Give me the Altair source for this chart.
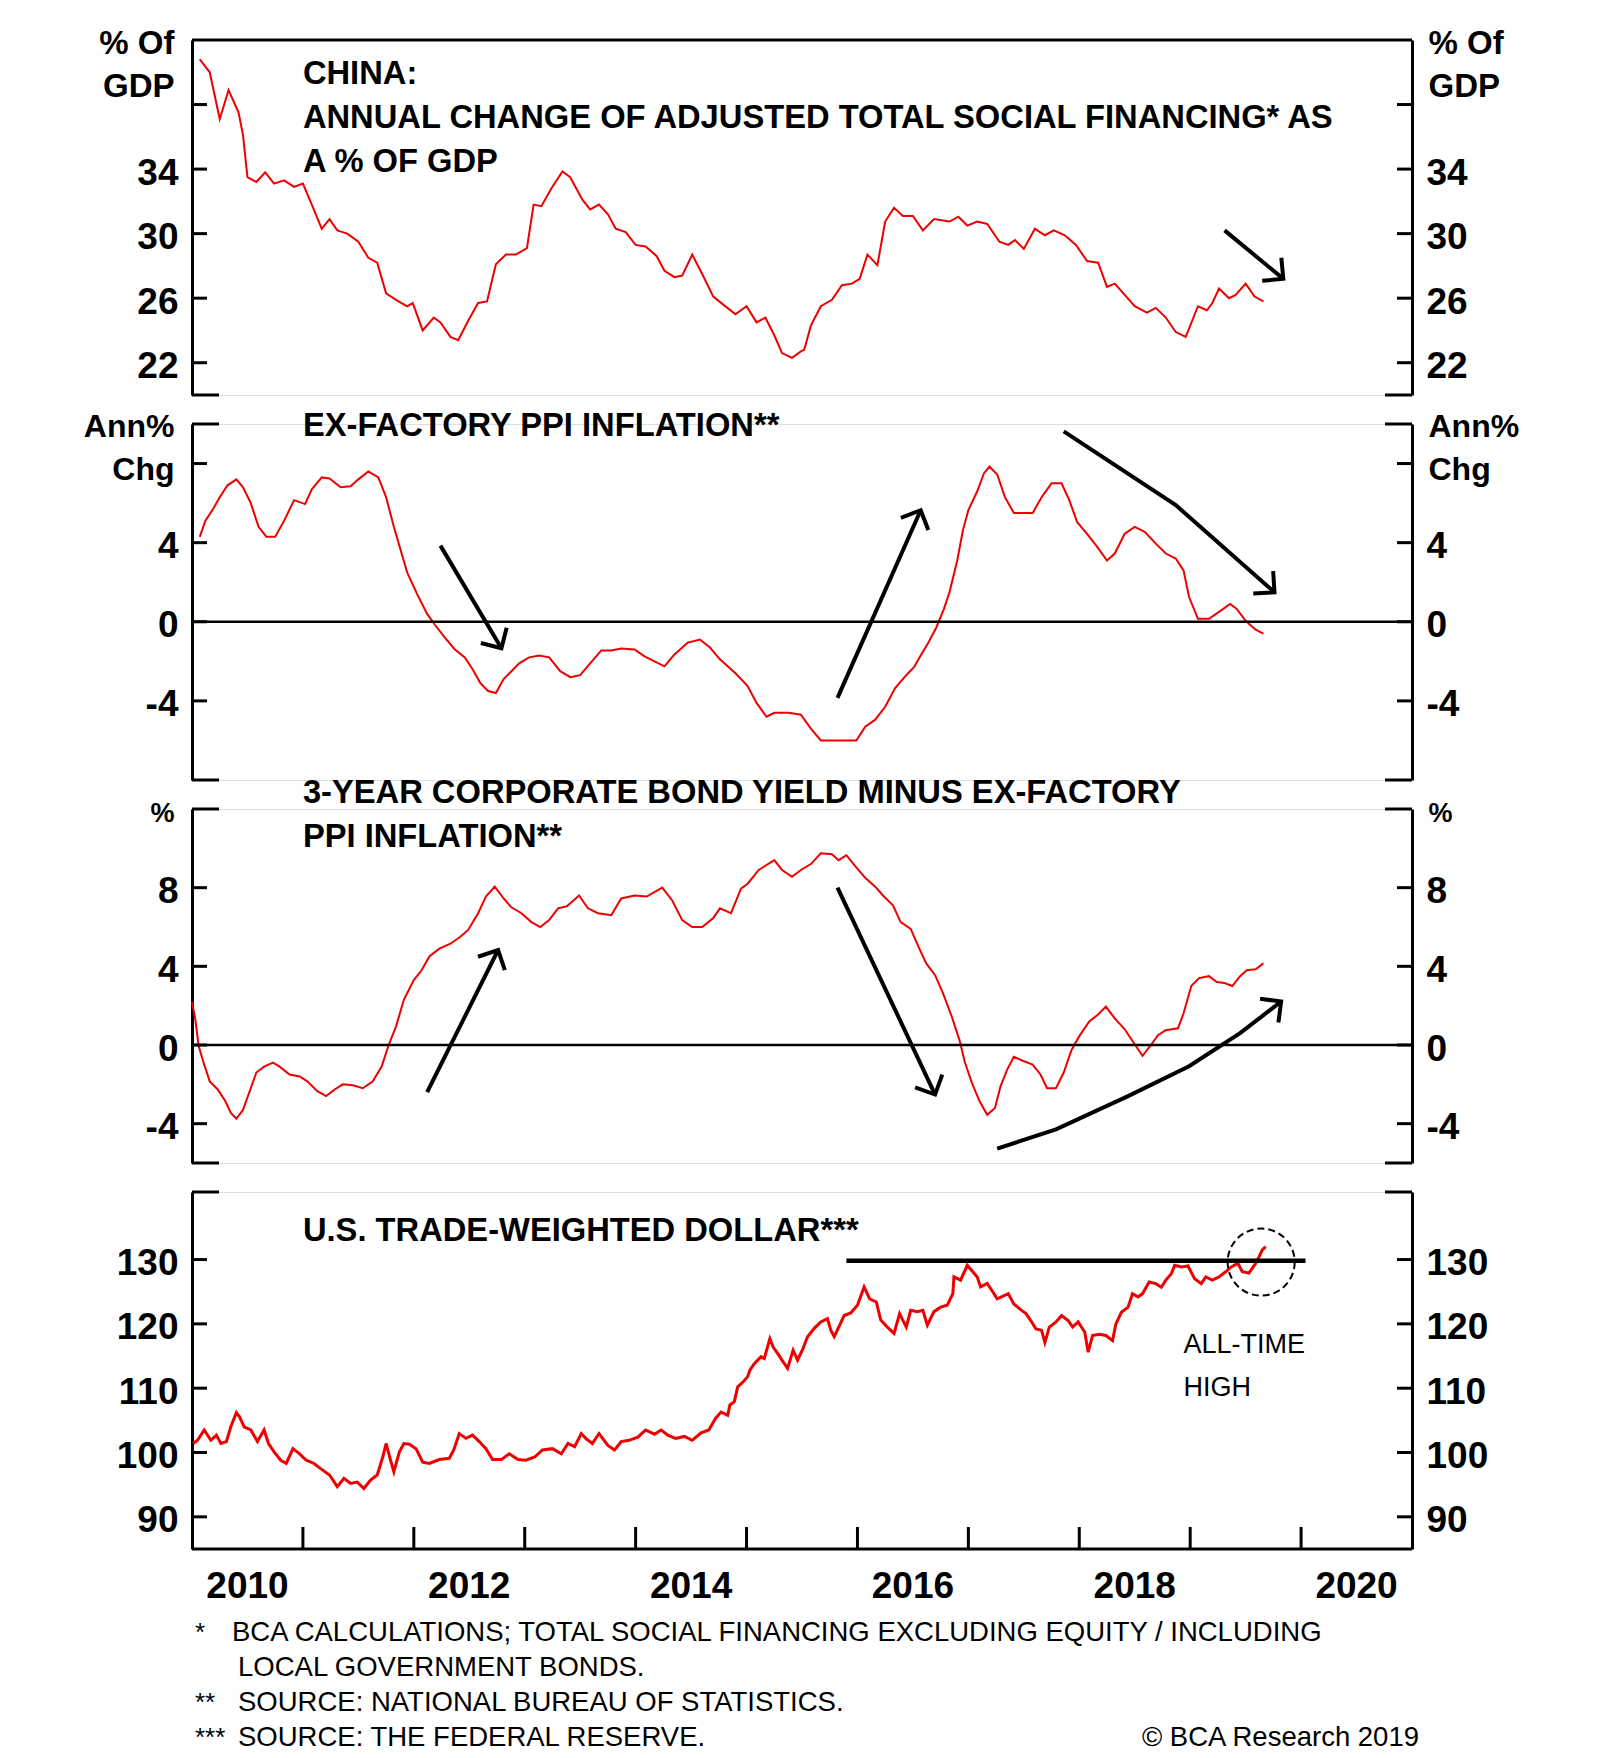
import math
import altair as alt
import pandas as pd

FONT = "Liberation Sans"
RED = "#ee0000"
W = 1220
XDOM = [2010, 2021]
PPX = W / (XDOM[1] - XDOM[0])

# ---------------- data ----------------
# Panel 1: annual change of adjusted TSF, % of GDP
tsf_x = [2010.07, 2010.16, 2010.25, 2010.33, 2010.42, 2010.46, 2010.5, 2010.58, 2010.66, 2010.74,
         2010.83, 2010.92, 2011.0, 2011.08, 2011.17, 2011.24, 2011.31, 2011.4, 2011.5, 2011.59,
         2011.67, 2011.75, 2011.84, 2011.94, 2011.99, 2012.08, 2012.18, 2012.24, 2012.33, 2012.4,
         2012.49, 2012.58, 2012.66, 2012.74, 2012.83, 2012.92, 2013.02, 2013.08, 2013.15, 2013.24,
         2013.34, 2013.41, 2013.52, 2013.59, 2013.67, 2013.75, 2013.82, 2013.91, 2014.0, 2014.09,
         2014.19, 2014.26, 2014.35, 2014.42, 2014.51, 2014.6, 2014.7, 2014.79, 2014.9, 2015.0,
         2015.09, 2015.17, 2015.25, 2015.32, 2015.41, 2015.49, 2015.52, 2015.58, 2015.67, 2015.77,
         2015.86, 2015.95, 2016.02, 2016.09, 2016.18, 2016.25, 2016.33, 2016.41, 2016.5, 2016.59,
         2016.69, 2016.83, 2016.91, 2016.99, 2017.08, 2017.17, 2017.28, 2017.36, 2017.42, 2017.5,
         2017.6, 2017.69, 2017.77, 2017.87, 2017.97, 2018.07, 2018.17, 2018.25, 2018.32, 2018.41,
         2018.5, 2018.61, 2018.69, 2018.78, 2018.87, 2018.96, 2019.07, 2019.15, 2019.2, 2019.26,
         2019.35, 2019.41, 2019.5, 2019.58, 2019.66]
tsf_v = [40.8, 40.0, 37.1, 38.9, 37.5, 36.1, 33.5, 33.2, 33.8, 33.1,
         33.3, 32.9, 33.1, 31.8, 30.3, 30.9, 30.2, 30.0, 29.5, 28.5,
         28.2, 26.3, 25.9, 25.5, 25.7, 24.0, 24.8, 24.5, 23.6, 23.4,
         24.6, 25.7, 25.8, 28.1, 28.7, 28.7, 29.1, 31.8, 31.7, 32.8,
         33.85, 33.5, 32.1, 31.5, 31.8, 31.2, 30.3, 30.1, 29.3, 29.2,
         28.6, 27.7, 27.3, 27.4, 28.7, 27.5, 26.1, 25.6, 25.0, 25.5,
         24.5, 24.8, 23.7, 22.6, 22.3, 22.7, 22.8, 24.3, 25.5, 25.9,
         26.8, 26.9, 27.2, 28.7, 28.05, 30.75, 31.6, 31.1, 31.1, 30.2,
         30.9, 30.75, 31.05, 30.5, 30.75, 30.6, 29.5, 29.3, 29.6, 29.05,
         30.3, 29.9, 30.2, 29.9, 29.3, 28.3, 28.2, 26.7, 26.9, 26.2,
         25.5, 25.1, 25.4, 24.8, 23.9, 23.6, 25.5, 25.25, 25.7, 26.6,
         26.0, 26.2, 26.9, 26.1, 25.8]

# Panel 2: ex-factory PPI inflation, annual % change
ppi_x = [2010.07, 2010.12, 2010.19, 2010.25, 2010.32, 2010.4, 2010.46, 2010.53, 2010.6, 2010.67,
         2010.75, 2010.83, 2010.92, 2011.02, 2011.08, 2011.17, 2011.24, 2011.34, 2011.43, 2011.5,
         2011.59, 2011.68, 2011.75, 2011.82, 2011.89, 2011.94, 2012.03, 2012.12, 2012.19, 2012.28,
         2012.37, 2012.46, 2012.53, 2012.6, 2012.67, 2012.74, 2012.81, 2012.88, 2012.95, 2013.04,
         2013.13, 2013.22, 2013.32, 2013.41, 2013.5, 2013.59, 2013.69, 2013.78, 2013.87, 2013.99,
         2014.08, 2014.17, 2014.26, 2014.35, 2014.47, 2014.58, 2014.67, 2014.76, 2014.9, 2015.01,
         2015.09, 2015.18, 2015.25, 2015.38, 2015.49, 2015.58, 2015.67, 2015.83, 2015.99, 2016.07,
         2016.16, 2016.25, 2016.34, 2016.44, 2016.51, 2016.57, 2016.64, 2016.71, 2016.78, 2016.83,
         2016.9, 2016.95, 2017.0, 2017.08, 2017.14, 2017.19, 2017.26, 2017.33, 2017.41, 2017.58,
         2017.66, 2017.75, 2017.84, 2017.91, 2017.98, 2018.07, 2018.16, 2018.25, 2018.32, 2018.41,
         2018.5, 2018.59, 2018.69, 2018.78, 2018.87, 2018.94, 2018.99, 2019.07, 2019.17, 2019.26,
         2019.36, 2019.42, 2019.5, 2019.59, 2019.66]
ppi_v = [4.29, 5.1, 5.7, 6.3, 6.9, 7.2, 6.8, 6.0, 4.8, 4.3,
         4.3, 5.1, 6.15, 5.95, 6.7, 7.3, 7.25, 6.8, 6.85, 7.2,
         7.6, 7.3, 6.3, 4.8, 3.45, 2.5, 1.4, 0.4, -0.15, -0.8,
         -1.4, -1.8, -2.4, -3.1, -3.5, -3.6, -2.9, -2.5, -2.1, -1.8,
         -1.7, -1.8, -2.5, -2.8, -2.7, -2.1, -1.45, -1.45, -1.35, -1.4,
         -1.75, -2.0, -2.25, -1.65, -1.05, -0.9, -1.3, -1.9, -2.6, -3.25,
         -4.1, -4.8, -4.6, -4.6, -4.7, -5.4, -6.0, -6.0, -6.0, -5.3,
         -4.95, -4.3, -3.35, -2.7, -2.3, -1.7, -1.05, -0.3, 0.65, 1.5,
         3.1, 4.6, 5.65, 6.6, 7.5, 7.85, 7.45, 6.3, 5.5, 5.5,
         6.3, 7.0, 7.0, 6.15, 5.05, 4.45, 3.8, 3.1, 3.45, 4.45,
         4.8, 4.55, 3.95, 3.45, 3.2, 2.6, 1.25, 0.15, 0.15, 0.5,
         0.9, 0.65, 0.05, -0.4, -0.6]

# Panel 3: 3-year corporate bond yield minus ex-factory PPI inflation
sp_x = [2010.0, 2010.03, 2010.06, 2010.11, 2010.16, 2010.23, 2010.3, 2010.35, 2010.4, 2010.46,
        2010.52, 2010.58, 2010.65, 2010.73, 2010.79, 2010.88, 2010.97, 2011.04, 2011.13, 2011.21,
        2011.29, 2011.36, 2011.45, 2011.54, 2011.63, 2011.71, 2011.77, 2011.84, 2011.91, 2012.0,
        2012.07, 2012.14, 2012.23, 2012.33, 2012.42, 2012.49, 2012.58, 2012.65, 2012.73, 2012.81,
        2012.88, 2012.97, 2013.06, 2013.14, 2013.22, 2013.3, 2013.38, 2013.49, 2013.57, 2013.66,
        2013.78, 2013.87, 2013.99, 2014.1, 2014.24, 2014.33, 2014.42, 2014.51, 2014.6, 2014.7,
        2014.76, 2014.86, 2014.95, 2015.01, 2015.11, 2015.25, 2015.32, 2015.41, 2015.49, 2015.58,
        2015.67, 2015.77, 2015.83, 2015.9, 2015.98, 2016.07, 2016.16, 2016.23, 2016.32, 2016.39,
        2016.48, 2016.55, 2016.62, 2016.7, 2016.77, 2016.85, 2016.92, 2016.97, 2017.03, 2017.1,
        2017.17, 2017.24, 2017.29, 2017.35, 2017.41, 2017.49, 2017.58, 2017.65, 2017.71, 2017.79,
        2017.86, 2017.93, 2018.0, 2018.09, 2018.17, 2018.24, 2018.32, 2018.41, 2018.48, 2018.57,
        2018.64, 2018.71, 2018.78, 2018.89, 2018.94, 2019.01, 2019.08, 2019.17, 2019.24, 2019.31,
        2019.38, 2019.45, 2019.51, 2019.59, 2019.66]
sp_v = [2.2, 1.3, -0.05, -1.0, -1.85, -2.25, -2.85, -3.45, -3.75, -3.3,
        -2.35, -1.4, -1.1, -0.9, -1.1, -1.5, -1.6, -1.85, -2.35, -2.6,
        -2.25, -2.0, -2.05, -2.2, -1.85, -1.1, -0.05, 0.95, 2.3, 3.3,
        3.8, 4.5, 4.9, 5.15, 5.5, 5.85, 6.7, 7.55, 8.05, 7.45,
        7.0, 6.7, 6.25, 6.0, 6.35, 6.95, 7.05, 7.6, 6.95, 6.7,
        6.6, 7.45, 7.6, 7.55, 8.0, 7.35, 6.35, 6.0, 6.0, 6.45,
        6.95, 6.7, 7.95, 8.2, 8.9, 9.4, 8.9, 8.55, 8.9, 9.2,
        9.75, 9.7, 9.4, 9.65, 9.1, 8.5, 8.05, 7.6, 7.1, 6.25,
        5.9, 5.0, 4.15, 3.55, 2.65, 1.45, 0.25, -0.9, -1.9, -2.85,
        -3.55, -3.2, -2.1, -1.25, -0.6, -0.8, -1.0, -1.5, -2.2, -2.2,
        -1.4, -0.25, 0.45, 1.2, 1.55, 1.95, 1.35, 0.8, 0.2, -0.55,
        -0.05, 0.5, 0.75, 0.85, 1.6, 3.0, 3.4, 3.5, 3.2, 3.15,
        3.0, 3.5, 3.8, 3.85, 4.15]

# Panel 4: U.S. trade-weighted dollar
usd_x = [2010.01, 2010.05, 2010.11, 2010.17, 2010.22, 2010.26, 2010.31, 2010.35, 2010.40, 2010.43,
         2010.47, 2010.53, 2010.59, 2010.65, 2010.69, 2010.74, 2010.80, 2010.85, 2010.91, 2010.97,
         2011.03, 2011.10, 2011.16, 2011.24, 2011.31, 2011.37, 2011.43, 2011.49, 2011.55, 2011.61,
         2011.67, 2011.72, 2011.75, 2011.79, 2011.82, 2011.87, 2011.91, 2011.96, 2012.02, 2012.08,
         2012.14, 2012.23, 2012.32, 2012.36, 2012.41, 2012.47, 2012.53, 2012.59, 2012.65, 2012.71,
         2012.79, 2012.86, 2012.94, 2013.01, 2013.09, 2013.16, 2013.25, 2013.33, 2013.39, 2013.45,
         2013.51, 2013.55, 2013.61, 2013.67, 2013.75, 2013.81, 2013.87, 2013.94, 2014.02, 2014.09,
         2014.17, 2014.23, 2014.29, 2014.36, 2014.44, 2014.51, 2014.59, 2014.66, 2014.72, 2014.77,
         2014.83, 2014.85, 2014.89, 2014.92, 2014.97, 2015.01, 2015.03, 2015.07, 2015.13, 2015.16,
         2015.21, 2015.24, 2015.28, 2015.33, 2015.37, 2015.42, 2015.46, 2015.51, 2015.55, 2015.61,
         2015.67, 2015.73, 2015.76, 2015.79, 2015.84, 2015.88, 2015.94, 2016.00, 2016.06, 2016.11,
         2016.17, 2016.21, 2016.27, 2016.33, 2016.38, 2016.44, 2016.48, 2016.54, 2016.59, 2016.63,
         2016.69, 2016.75, 2016.81, 2016.86, 2016.87, 2016.93, 2016.99, 2017.04, 2017.08, 2017.11,
         2017.17, 2017.22, 2017.26, 2017.36, 2017.41, 2017.48, 2017.52, 2017.57, 2017.61, 2017.66,
         2017.69, 2017.73, 2017.79, 2017.84, 2017.90, 2017.94, 2017.99, 2018.05, 2018.08, 2018.12,
         2018.18, 2018.24, 2018.30, 2018.33, 2018.38, 2018.44, 2018.48, 2018.53, 2018.57, 2018.63,
         2018.69, 2018.74, 2018.78, 2018.83, 2018.86, 2018.92, 2018.98, 2019.04, 2019.10, 2019.14,
         2019.20, 2019.26, 2019.32, 2019.37, 2019.43, 2019.47, 2019.53, 2019.59, 2019.62, 2019.65,
         2019.68]
usd_v = [101.4, 101.9, 103.5, 101.9, 102.7, 101.4, 101.7, 104.0, 106.2, 105.5,
         104.0, 103.5, 101.7, 103.5, 101.4, 100.1, 98.8, 98.3, 100.6, 99.8,
         98.8, 98.3, 97.5, 96.5, 94.7, 96.0, 95.2, 95.4, 94.4, 95.7,
         96.5, 99.3, 101.4, 98.8, 97.0, 100.1, 101.4, 101.3, 100.6, 98.5,
         98.3, 98.9, 99.1, 100.4, 102.95, 102.2, 102.7, 101.7, 100.6, 98.9,
         98.9, 99.8, 98.9, 98.8, 99.3, 100.4, 100.6, 99.8, 101.4, 100.9,
         102.95, 102.2, 101.4, 102.95, 101.1, 100.4, 101.7, 101.9, 102.4, 103.5,
         102.85, 103.5, 102.7, 102.2, 102.5, 101.9, 103.05, 103.5, 105.3, 106.3,
         105.8, 107.4, 107.9, 110.2, 111.0, 111.8, 112.8, 113.8, 114.9, 114.6,
         117.7, 116.4, 115.4, 114.1, 113.1, 115.9, 114.35, 116.2, 118.0, 119.3,
         120.3, 120.8, 119.0, 118.0, 119.8, 121.3, 121.7, 122.9, 125.75, 123.9,
         123.4, 120.6, 119.5, 118.5, 121.6, 119.5, 122.1, 121.9, 122.1, 119.8,
         121.9, 122.6, 122.9, 124.7, 127.3, 126.8, 129.1, 128.1, 127.3, 125.75,
         126.3, 125.0, 123.9, 124.7, 123.1, 122.1, 121.6, 120.3, 119.2, 119.0,
         117.1, 119.5, 120.3, 121.3, 120.5, 119.5, 120.3, 118.7, 115.6, 118.2,
         118.4, 118.2, 117.4, 120.0, 121.8, 122.6, 124.7, 124.2, 124.7, 126.5,
         126.25, 125.7, 126.8, 127.8, 129.1, 128.85, 129.0, 127.0, 126.25, 127.3,
         126.8, 127.3, 128.1, 128.85, 129.4, 128.1, 127.9, 129.4, 130.4, 131.5,
         132.0]

# Annotation arrows (year, value) per panel
arrows_p1 = [[(2019.31, 30.2), (2019.84, 27.2)]]
arrows_p2 = [[(2012.24, 3.85), (2012.79, -1.34)],
             [(2015.82, -3.85), (2016.57, 5.64)],
             [(2017.86, 9.63), (2018.87, 5.9), (2019.76, 1.49)]]
arrows_p3 = [[(2012.12, -2.4), (2012.76, 4.83)],
             [(2015.82, 8.0), (2016.70, -2.52)],
             [(2017.26, -5.27), (2017.79, -4.29), (2018.44, -2.6), (2018.99, -1.08),
              (2019.45, 0.6), (2019.82, 2.21)]]

# resistance line & circle in the dollar panel
hline_x = [2015.9, 2020.04]
hline_v = 129.8
circle_x, circle_v = 2019.64, 129.6

year_ticks = list(range(2011, 2021))
year_label_x = [2010.5, 2012.5, 2014.5, 2016.5, 2018.5, 2020.5]
year_label_text = ["2010", "2012", "2014", "2016", "2018", "2020"]

titles = {
    1: ["CHINA:", "ANNUAL CHANGE OF ADJUSTED TOTAL  SOCIAL FINANCING* AS", "A % OF GDP"],
    2: ["EX-FACTORY PPI INFLATION**"],
    3: ["3-YEAR CORPORATE BOND YIELD MINUS EX-FACTORY", "PPI INFLATION**"],
    4: ["U.S. TRADE-WEIGHTED DOLLAR***"],
}
footnotes = [
    ("*", "BCA CALCULATIONS; TOTAL  SOCIAL FINANCING EXCLUDING EQUITY / INCLUDING"),
    ("", "LOCAL GOVERNMENT BONDS."),
    ("**", "SOURCE: NATIONAL BUREAU OF STATISTICS."),
    ("***", "SOURCE: THE FEDERAL RESERVE."),
]

# ---------------- helpers ----------------

def xenc(axis=None):
    return alt.X("x:Q", scale=alt.Scale(domain=XDOM, nice=False, zero=False), axis=axis)


def yenc(dom, axis=None):
    return alt.Y("v:Q", scale=alt.Scale(domain=dom, nice=False, zero=False), axis=axis)


def y_axis(orient, labels, title, title_y, title_size=33):
    kw = dict(values=labels, orient=orient, ticks=False, tickSize=0, grid=False,
              domain=True, domainColor="black", domainWidth=3,
              labelFont=FONT, labelFontSize=37, labelFontWeight="bold", labelColor="black",
              labelPadding=14, labelBaseline="middle", labelOffset=4,
              labelExpr="'' + datum.value", labelOverlap=False)
    if orient == "left":
        kw.update(minExtent=183, maxExtent=183)
    if title:
        kw.update(title=title, titleX=(-18 if orient == "left" else 16), titleY=title_y,
                  titleAlign=("right" if orient == "left" else "left"), titleAngle=0,
                  titleBaseline="alphabetic", titleFont=FONT, titleFontSize=title_size,
                  titleFontWeight="bold", titleColor="black", titleLineHeight=43)
    else:
        kw.update(title=None)
    return alt.Axis(**kw)


def arrows_layers(arrows, dom, H, width=4):
    ppy = H / (dom[1] - dom[0])
    rows, heads = [], []
    for k, pts in enumerate(arrows):
        for i, (x, v) in enumerate(pts):
            rows.append({"x": x, "v": v, "id": k, "i": i})
        (x0, v0), (x1, v1) = pts[-2], pts[-1]
        dx = (x1 - x0) * PPX
        dy = -(v1 - v0) * ppy
        ang = math.degrees(math.atan2(dx, -dy)) % 360
        heads.append({"x": x1, "v": v1, "ang": ang})
    line = alt.Chart(pd.DataFrame(rows)).mark_line(color="black", strokeWidth=width, strokeCap="butt").encode(
        x=xenc(), y=yenc(dom), detail="id:N", order="i:Q")
    head = alt.Chart(pd.DataFrame(heads)).mark_point(
        shape="M -1 1 L 0 0 L 1 1", filled=False, color="black", strokeWidth=width, size=900,
        opacity=1).encode(x=xenc(), y=yenc(dom), angle=alt.Angle("ang:Q", scale=None))
    return [line, head]


def panel(n, sx, sv, dom, H, labels, short_ticks, long_ticks, ltitle, rtitle, title_y_axis,
          title_size, title_y, frame_top=False, zero=False, arrows=None, line_width=2,
          extra=None):
    df = pd.DataFrame({"x": sx, "v": sv})
    layers = []
    layers.append(alt.Chart(df).mark_line(color=RED, strokeWidth=line_width).encode(
        x=xenc(), y=yenc(dom, y_axis("left", labels, ltitle, title_y_axis, title_size))))
    tdf = pd.DataFrame({"v": short_ticks})
    layers.append(alt.Chart(tdf).mark_rule(color="black", strokeWidth=3).encode(
        y=yenc(dom, y_axis("right", labels, rtitle, title_y_axis, title_size)),
        x=alt.value(W - 15), x2=alt.value(W)))
    layers.append(alt.Chart(tdf).mark_rule(color="black", strokeWidth=3).encode(
        y=yenc(dom), x=alt.value(0), x2=alt.value(15)))
    if long_ticks:
        ldf = pd.DataFrame({"v": long_ticks})
        layers.append(alt.Chart(ldf).mark_rule(color="black", strokeWidth=3).encode(
            y=yenc(dom), x=alt.value(0), x2=alt.value(27)))
        layers.append(alt.Chart(ldf).mark_rule(color="black", strokeWidth=3).encode(
            y=yenc(dom), x=alt.value(W - 27), x2=alt.value(W)))
    if frame_top:
        layers.append(alt.Chart(pd.DataFrame({"v": [dom[1]]})).mark_rule(color="black", strokeWidth=3).encode(
            y=yenc(dom), x=alt.value(0), x2=alt.value(W)))
    if zero:
        layers.append(alt.Chart(pd.DataFrame({"v": [0]})).mark_rule(color="black", strokeWidth=2.5).encode(
            y=yenc(dom), x=alt.value(0), x2=alt.value(W)))
    if arrows:
        layers += arrows_layers(arrows, dom, H, 4)
    layers.append(alt.Chart(pd.DataFrame({"x": [2011.0]})).mark_text(
        align="left", baseline="alphabetic", font=FONT, fontSize=32.7, fontWeight="bold",
        color="black", lineHeight=44).encode(
        x=xenc(), y=alt.value(title_y), text=alt.value(titles[n])))
    if extra:
        layers += extra
    return alt.layer(*layers).resolve_scale(y="independent").properties(width=W, height=H)


# ---------------- panels ----------------
H1, H2, H3, H4 = 355, 356, 354, 357
D1, D2, D3, D4 = [20, 42], [-8, 10], [-6, 12], [85, 140.5]

p1 = panel(1, tsf_x, tsf_v, D1, H1, [22, 26, 30, 34], [22, 26, 30, 34, 38], [20],
           ["% Of", "GDP"], ["% Of", "GDP"], 13, 33, 44, frame_top=True, arrows=arrows_p1)

p2 = panel(2, ppi_x, ppi_v, D2, H2, [-4, 0, 4], [-4, 0, 4, 8], [-8, 10],
           ["Ann%", "Chg"], ["Ann%", "Chg"], 12, 32, 12, zero=True, arrows=arrows_p2)

p3 = panel(3, sp_x, sp_v, D3, H3, [-4, 0, 4, 8], [-4, 0, 4, 8], [-6, 12],
           "%", "%", 12, 27, -6, zero=True, arrows=arrows_p3)

# dollar panel extras: bottom axis line, year ticks & labels, resistance line, circle, notes
extra4 = []
extra4.append(alt.Chart(pd.DataFrame({"v": [D4[0]]})).mark_rule(color="black", strokeWidth=3).encode(
    y=yenc(D4), x=alt.value(0), x2=alt.value(W)))
extra4.append(alt.Chart(pd.DataFrame({"x": year_ticks})).mark_rule(color="black", strokeWidth=3).encode(
    x=xenc(), y=alt.value(H4), y2=alt.value(H4 - 22)))
extra4.append(alt.Chart(pd.DataFrame({"x": year_label_x, "t": year_label_text})).mark_text(
    align="center", baseline="alphabetic", font=FONT, fontSize=37, fontWeight="bold",
    color="black").encode(x=xenc(), y=alt.value(H4 + 49), text="t:N"))
extra4.append(alt.Chart(pd.DataFrame({"x": [hline_x[0]], "x2": [hline_x[1]], "v": [hline_v]})).mark_rule(
    color="black", strokeWidth=4.5).encode(x=xenc(), x2="x2:Q", y=yenc(D4)))
extra4.append(alt.Chart(pd.DataFrame({"x": [circle_x], "v": [circle_v]})).mark_point(
    shape="circle", size=4500, filled=False, color="black", strokeWidth=2, strokeDash=[7, 4],
    opacity=1).encode(x=xenc(), y=yenc(D4)))
extra4.append(alt.Chart(pd.DataFrame({"x": [2018.94], "v": [115.5]})).mark_text(
    align="left", baseline="alphabetic", font=FONT, fontSize=27, color="black", lineHeight=43).encode(
    x=xenc(), y=yenc(D4), text=alt.value(["ALL-TIME", "HIGH"])))
fy = [449, 484, 519, 554]
for (mark, txt), yy in zip(footnotes, fy):
    if mark:
        extra4.append(alt.Chart(pd.DataFrame({"a": [0]})).mark_text(
            align="left", baseline="alphabetic", font=FONT, fontSize=26, color="black").encode(
            x=alt.value(3), y=alt.value(yy), text=alt.value(mark)))
    extra4.append(alt.Chart(pd.DataFrame({"a": [0]})).mark_text(
        align="left", baseline="alphabetic", font=FONT, fontSize=27.5, color="black").encode(
        x=alt.value(40 if mark == "*" else 46), y=alt.value(yy), text=alt.value(txt)))
extra4.append(alt.Chart(pd.DataFrame({"a": [0]})).mark_text(
    align="right", baseline="alphabetic", font=FONT, fontSize=27.5, color="black").encode(
    x=alt.value(1227), y=alt.value(554), text=alt.value("\u00a9 BCA Research 2019")))

p4 = panel(4, usd_x, usd_v, D4, H4, [90, 100, 110, 120, 130], [90, 100, 110, 120, 130], [140.5],
           None, None, 0, 33, 49, line_width=3, extra=extra4)

chart = alt.vconcat(p1, p2, p3, p4, spacing=29, bounds="flush").properties(
    padding={"left": 0, "top": 18, "right": 10, "bottom": 0}
).configure_view(stroke=None).configure(background="white")

chart.save("out.html", embed_options={"renderer": "svg", "actions": False})
